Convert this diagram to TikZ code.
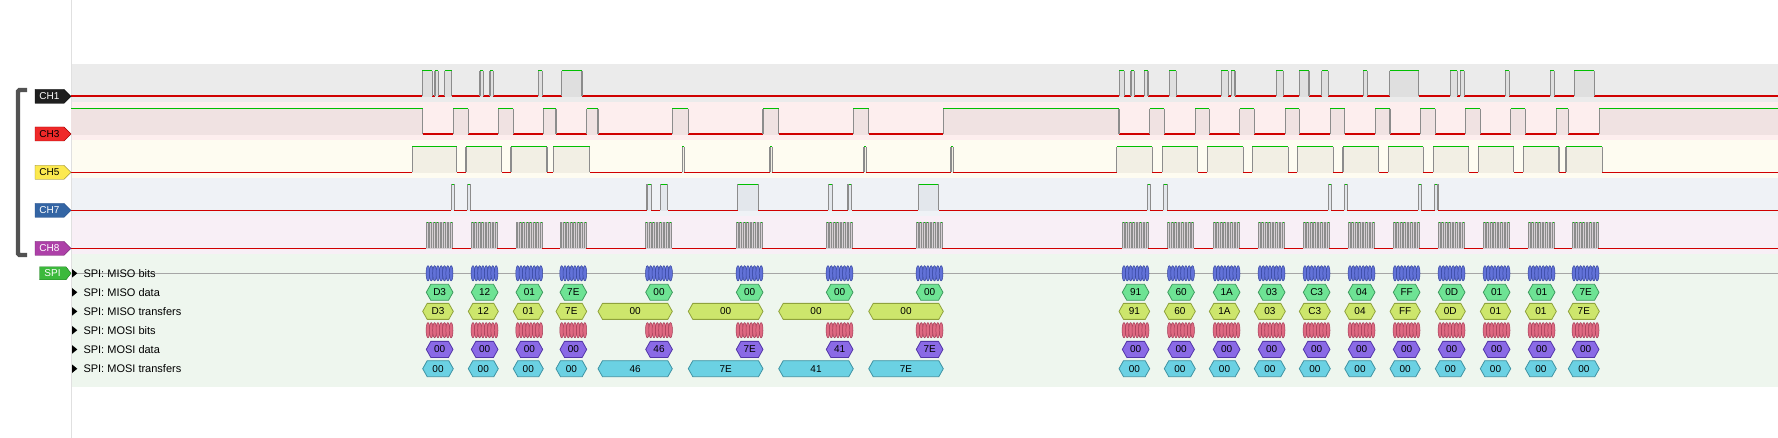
\documentclass[tikz,border=0pt]{standalone}
\usepackage{fontspec}
\setmainfont{Liberation Sans}
\definecolor{bandone}{HTML}{EBEBEB}
\definecolor{bandthree}{HTML}{FDEEEE}
\definecolor{bandfive}{HTML}{FEFCF1}
\definecolor{bandseven}{HTML}{EFF2F6}
\definecolor{bandeight}{HTML}{F8EFF6}
\definecolor{bandspi}{HTML}{EEF6EE}
\definecolor{hione}{HTML}{DFDFDF}
\definecolor{hithree}{HTML}{F0E2E2}
\definecolor{hifive}{HTML}{F2EFE4}
\definecolor{hiseven}{HTML}{E3E7EC}
\definecolor{hieight}{HTML}{D6D0D4}
\definecolor{sigred}{HTML}{D00000}
\definecolor{siggreen}{HTML}{00C000}
\definecolor{edgegrey}{HTML}{8C8C8C}

\begin{document}
\begin{tikzpicture}[x=1pt,y=1pt]
\tikzstyle{every node}+=[inner sep=0pt]
\tikzstyle{lowline}=[draw=sigred, line width=1.2pt]
\tikzstyle{highline}=[draw=siggreen, line width=1.2pt]
\tikzstyle{edgeline}=[draw=edgegrey, line width=1.3pt]
\tikzstyle{tagtext}=[font=\fontsize{10}{12}\selectfont]
\tikzstyle{rowlabel}=[font=\fontsize{11}{13}\selectfont, anchor=west]
\tikzstyle{hexlabel}=[font=\fontsize{10}{12}\selectfont]
\tikzstyle{misobit}=[fill={rgb,255:red,98;green,114;blue,216}, draw={rgb,255:red,52;green,68;blue,156}, line width=0.5pt]
\tikzstyle{mosibit}=[fill={rgb,255:red,223;green,106;blue,130}, draw={rgb,255:red,162;green,58;blue,85}, line width=0.5pt]
\tikzstyle{misodat}=[fill={rgb,255:red,110;green,227;blue,148}, draw={rgb,255:red,63;green,154;blue,95}, line width=0.8pt]
\tikzstyle{misoxfer}=[fill={rgb,255:red,205;green,230;blue,108}, draw={rgb,255:red,143;green,162;blue,60}, line width=0.8pt]
\tikzstyle{mosidat}=[fill={rgb,255:red,138;green,106;blue,230}, draw={rgb,255:red,83;green,54;blue,168}, line width=0.8pt]
\tikzstyle{mosixfer}=[fill={rgb,255:red,107;green,209;blue,227}, draw={rgb,255:red,63;green,147;blue,163}, line width=0.8pt]
\useasboundingbox (0,0) rectangle (1778,-438);
\fill[white] (0,0) rectangle (1778,-438);
% channel bands
\fill[bandone] (71,-64) rectangle (1778,-102);
\fill[bandthree] (71,-102) rectangle (1778,-140);
\fill[bandfive] (71,-140) rectangle (1778,-178);
\fill[bandseven] (71,-178) rectangle (1778,-216);
\fill[bandeight] (71,-216) rectangle (1778,-254);
\fill[bandspi] (71,-254) rectangle (1778,-386.7);
\draw[black!12, line width=1pt] (71.5,0) -- (71.5,-438);
% CH1
\draw[lowline] (71,-96) -- (1778,-96);
\foreach \a/\b in {422.3/432.3, 435/438.3, 444.7/451.7, 480/483.3, 490/493.3, 538.3/542.3, 561.7/582, 1119.3/1124.3, 1131/1134.3, 1144.3/1148, 1169.3/1176.3, 1221.3/1228.3, 1231.3/1235, 1276.3/1283.3, 1299.3/1309, 1321.7/1328.3, 1363.3/1367.3, 1389.7/1418.7, 1450.3/1457.3, 1460.3/1464.3, 1505.3/1509.3, 1550.3/1554.3, 1574.3/1594.3} {
  \fill[hione] (\a,-70.7) rectangle (\b,-96.7);
  \draw[highline] (\a,-70.7) -- (\b,-70.7);
  \draw[edgeline] (\a,-96) -- (\a,-70.7) (\b,-70.7) -- (\b,-96);
}
% CH3
\draw[lowline] (71,-134) -- (1778,-134);
\fill[hithree] (71,-108.7) rectangle (422.7,-134.7);
\draw[highline] (71,-108.7) -- (422.7,-108.7);
\draw[edgeline] (422.7,-108.7) -- (422.7,-134);
\fill[hithree] (1599.3,-108.7) rectangle (1778,-134.7);
\draw[highline] (1599.3,-108.7) -- (1778,-108.7);
\draw[edgeline] (1599.3,-134) -- (1599.3,-108.7);
\foreach \a/\b in {453.3/468.3, 498.3/513.3, 543.3/556, 586.7/598, 672.3/688.3, 763/778.7, 853.3/868.7, 943.3/1119, 1149.7/1164.3, 1195.3/1209.3, 1239.7/1254.3, 1285.3/1299.3, 1330.3/1344.7, 1375.3/1390, 1420.3/1435.3, 1465.3/1480.3, 1510.7/1525.3, 1556.3/1568.3} {
  \fill[hithree] (\a,-108.7) rectangle (\b,-134.7);
  \draw[highline] (\a,-108.7) -- (\b,-108.7);
  \draw[edgeline] (\a,-134) -- (\a,-108.7) (\b,-108.7) -- (\b,-134);
}
% CH5
\draw[lowline] (71,-172.3) -- (1778,-172.3);
\foreach \a/\b in {412.3/456.7, 466/501.7, 511/547, 553.3/589.7, 682.3/684.3, 770/772.3, 864/866.3, 951/953.3, 1116.7/1152.3, 1162.3/1197.7, 1207.3/1243.3, 1252.3/1288.3, 1297.3/1333.3, 1343/1378.7, 1388.3/1423.3, 1433.3/1468.7, 1478.3/1513.7, 1523.3/1559, 1566/1602.3} {
  \fill[hifive] (\a,-146.7) rectangle (\b,-173);
  \draw[highline] (\a,-146.7) -- (\b,-146.7);
  \draw[edgeline] (\a,-172.3) -- (\a,-146.7) (\b,-146.7) -- (\b,-172.3);
}
% CH7
\draw[lowline] (71,-210.3) -- (1778,-210.3);
\foreach \a/\b in {451.3/454.3, 467.3/470.3, 647/651.3, 660.3/667.7, 737.7/758.3, 828.3/832.3, 848/851.7, 918.3/938.5, 1147.3/1150.3, 1163.3/1167.3, 1328.3/1331.3, 1344.3/1347.3, 1418.3/1421.3, 1434.7/1438} {
  \fill[hiseven] (\a,-184.3) rectangle (\b,-211);
  \draw[highline] (\a,-184.3) -- (\b,-184.3);
  \draw[edgeline] (\a,-210.3) -- (\a,-184.3) (\b,-184.3) -- (\b,-210.3);
}
% CH8 clock bursts
\draw[lowline] (71,-248.3) -- (1778,-248.3);
\foreach \s in {426.3, 471.3, 516, 560, 645.7, 736.3, 826.3, 916.3, 1122.3, 1167.7, 1213.3, 1258.3, 1303.3, 1348.3, 1393.3, 1438.3, 1483.3, 1528.3, 1572.3} {
  \fill[hieight] (\s,-222.3) rectangle ({\s+26},-249);
  \foreach \k in {0,...,7} {
    \draw[highline, line width=1pt] ({\s+\k*3.45},-222.3) -- ({\s+\k*3.45+1.8},-222.3);
    \draw[edgeline, line width=0.9pt] ({\s+\k*3.45},-248.3) -- ({\s+\k*3.45},-222.3) ({\s+\k*3.45+1.8},-222.3) -- ({\s+\k*3.45+1.8},-248.3);
  }
}
% group bracket
\draw[black!68, line width=4.3pt, rounded corners=1.5pt] (27,-90) -- (18,-90) -- (18,-255) -- (27,-255);
% channel tags
\filldraw[fill=black!88, draw=black] (35,-89.3) -- (64,-89.3) -- (71,-96.3) -- (64,-103.3) -- (35,-103.3) -- cycle;
\node[tagtext, text=white] (ch1) at (49.5,-96.3) {CH1};
\filldraw[fill={rgb,255:red,239;green,41;blue,41}, draw={rgb,255:red,164;green,0;blue,0}] (35,-127) -- (64,-127) -- (71,-134) -- (64,-141) -- (35,-141) -- cycle;
\node[tagtext, text=black] (ch3) at (49.5,-134) {CH3};
\filldraw[fill={rgb,255:red,252;green,233;blue,79}, draw={rgb,255:red,138;green,122;blue,32}] (35,-165.3) -- (64,-165.3) -- (71,-172.3) -- (64,-179.3) -- (35,-179.3) -- cycle;
\node[tagtext, text=black] (ch5) at (49.5,-172.3) {CH5};
\filldraw[fill={rgb,255:red,52;green,101;blue,164}, draw={rgb,255:red,32;green,74;blue,135}] (35,-203.3) -- (64,-203.3) -- (71,-210.3) -- (64,-217.3) -- (35,-217.3) -- cycle;
\node[tagtext, text=white] (ch7) at (49.5,-210.3) {CH7};
\filldraw[fill={rgb,255:red,173;green,64;blue,168}, draw={rgb,255:red,109;green,31;blue,104}] (35,-241.3) -- (64,-241.3) -- (71,-248.3) -- (64,-255.3) -- (35,-255.3) -- cycle;
\node[tagtext, text=white] (ch8) at (49.5,-248.3) {CH8};
\filldraw[fill={rgb,255:red,60;green,185;blue,60}, draw={rgb,255:red,30;green,122;blue,30}] (39.5,-266.8) -- (66,-266.8) -- (71,-273.3) -- (66,-279.8) -- (39.5,-279.8) -- cycle;
\node[tagtext, text=white] (spi) at (52.5,-273.3) {SPI};
% decoder rows
\draw[black!35, line width=1pt] (72,-273.3) -- (1778,-273.3);
\foreach \y/\t [count=\i] in {273.3/SPI: MISO bits, 292.3/SPI: MISO data, 311.4/SPI: MISO transfers, 330.2/SPI: MOSI bits, 349.4/SPI: MOSI data, 368.7/SPI: MOSI transfers} {
  \fill[black] (72,-\y+4.3) -- (77.3,-\y) -- (72,-\y-4.3) -- cycle;
  \node[rowlabel] (row\i) at (83.3,-\y) {\t};
}
% bits
\foreach \s in {426.3, 471.3, 516, 560, 645.7, 736.3, 826.3, 916.3, 1122.3, 1167.7, 1213.3, 1258.3, 1303.3, 1348.3, 1393.3, 1438.3, 1483.3, 1528.3, 1572.3} {
  \foreach \k in {0,...,7} {
    \draw[misobit] ({\s+1.7+\k*3.3},-273.3) ellipse (1.9 and 7.6);
    \draw[mosibit] ({\s+1.7+\k*3.3},-330.2) ellipse (1.9 and 7.6);
  }
}
% MISO data
\foreach \s/\v [count=\i] in {426.3/D3, 471.3/12, 516/01, 560/7E, 645.7/00, 736.3/00, 826.3/00, 916.3/00, 1122.3/91, 1167.7/60, 1213.3/1A, 1258.3/03, 1303.3/C3, 1348.3/04, 1393.3/FF, 1438.3/0D, 1483.3/01, 1528.3/01, 1572.3/7E} {
  \draw[misodat] (\s,-292.3) -- ({\s+4.5},-284.3) -- ({\s+22.2},-284.3) -- ({\s+26.7},-292.3) -- ({\s+22.2},-300.3) -- ({\s+4.5},-300.3) -- cycle;
  \node[hexlabel] (misod\i) at ({\s+13.35},-292.3) {\v};
}
% MOSI data
\foreach \s/\v [count=\i] in {426.3/00, 471.3/00, 516/00, 560/00, 645.7/46, 736.3/7E, 826.3/41, 916.3/7E, 1122.3/00, 1167.7/00, 1213.3/00, 1258.3/00, 1303.3/00, 1348.3/00, 1393.3/00, 1438.3/00, 1483.3/00, 1528.3/00, 1572.3/00} {
  \draw[mosidat] (\s,-349.4) -- ({\s+4.5},-341.4) -- ({\s+22.2},-341.4) -- ({\s+26.7},-349.4) -- ({\s+22.2},-357.4) -- ({\s+4.5},-357.4) -- cycle;
  \node[hexlabel] (mosid\i) at ({\s+13.35},-349.4) {\v};
}
% transfers
\foreach \a/\b/\v/\w [count=\i] in {422.7/453.3/D3/00, 468.3/498.3/12/00, 513.3/543.3/01/00, 556/586.7/7E/00, 598/672.3/00/46, 688.3/763/00/7E, 778.7/853.3/00/41, 868.7/943.3/00/7E, 1119/1149.7/91/00, 1164.3/1195.3/60/00, 1209.3/1239.7/1A/00, 1254.3/1285.3/03/00, 1299.3/1330.3/C3/00, 1344.7/1375.3/04/00, 1390/1420.3/FF/00, 1435.3/1465.3/0D/00, 1480.3/1510.7/01/00, 1525.3/1556.3/01/00, 1568.3/1599.3/7E/00} {
  \draw[misoxfer] (\a,-311.4) -- ({\a+4.5},-303.4) -- ({\b-4.5},-303.4) -- (\b,-311.4) -- ({\b-4.5},-319.4) -- ({\a+4.5},-319.4) -- cycle;
  \node[hexlabel] (misox\i) at ({(\a+\b)/2},-311.4) {\v};
  \draw[mosixfer] (\a,-368.7) -- ({\a+4.5},-360.7) -- ({\b-4.5},-360.7) -- (\b,-368.7) -- ({\b-4.5},-376.7) -- ({\a+4.5},-376.7) -- cycle;
  \node[hexlabel] (mosix\i) at ({(\a+\b)/2},-368.7) {\w};
}
\end{tikzpicture}
\end{document}
